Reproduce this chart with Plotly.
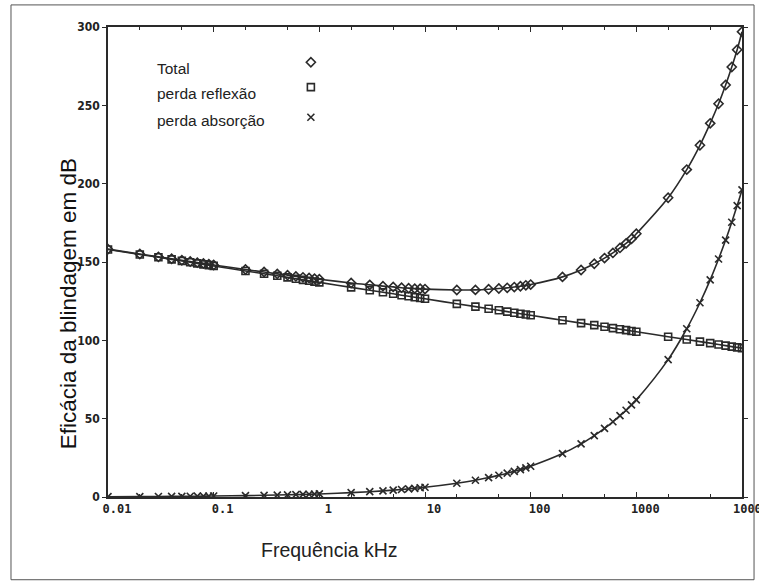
import plotly.graph_objects as go

# Frequencies (kHz): 1..9 per decade from 0.01 to 10000
freq = [0.01, 0.02, 0.03, 0.04, 0.05, 0.06, 0.07, 0.08, 0.09,
        0.1, 0.2, 0.3, 0.4, 0.5, 0.6, 0.7, 0.8, 0.9,
        1, 2, 3, 4, 5, 6, 7, 8, 9,
        10, 20, 30, 40, 50, 60, 70, 80, 90,
        100, 200, 300, 400, 500, 600, 700, 800, 900,
        1000, 2000, 3000, 4000, 5000, 6000, 7000, 8000, 9000,
        10000]

reflexao = [158.0, 154.8, 153.0, 151.7, 150.7, 149.8, 149.1, 148.5, 148.0,
            147.5, 144.3, 142.5, 141.2, 140.2, 139.3, 138.6, 138.0, 137.5,
            137.0, 133.8, 132.0, 130.7, 129.7, 128.8, 128.1, 127.5, 127.0,
            126.5, 123.3, 121.5, 120.2, 119.2, 118.3, 117.6, 117.0, 116.5,
            116.0, 112.8, 111.0, 109.7, 108.7, 107.8, 107.1, 106.5, 106.0,
            105.5, 102.3, 100.5, 99.2, 98.2, 97.3, 96.6, 96.0, 95.5,
            95.0]

absorcao = [0.2, 0.28, 0.34, 0.39, 0.44, 0.48, 0.52, 0.55, 0.59,
            0.62, 0.88, 1.07, 1.24, 1.39, 1.52, 1.64, 1.75, 1.86,
            1.96, 2.77, 3.39, 3.92, 4.38, 4.80, 5.19, 5.54, 5.88,
            6.2, 8.8, 10.7, 12.4, 13.9, 15.2, 16.4, 17.5, 18.6,
            19.6, 27.7, 33.9, 39.2, 43.8, 48.0, 51.9, 55.4, 58.8,
            62.0, 87.7, 107.4, 124.0, 138.6, 151.9, 164.0, 175.4, 186.0,
            196.0]

total = [158.2, 155.1, 153.3, 152.1, 151.1, 150.3, 149.6, 149.1, 148.6,
         148.1, 145.2, 143.6, 142.4, 141.6, 140.8, 140.2, 139.8, 139.4,
         139.0, 136.6, 135.4, 134.6, 134.1, 133.6, 133.3, 133.0, 132.9,
         132.7, 132.1, 132.2, 132.6, 133.1, 133.5, 134.0, 134.5, 135.1,
         135.6, 140.5, 144.9, 148.9, 152.5, 155.8, 159.0, 161.9, 164.8,
         168.0, 191.0, 209.0, 224.5, 238.5, 251.0, 263.0, 274.5, 285.5,
         297.0]

series_names = ["Total", "perda reflexão", "perda absorção"]
series_symbols = ["diamond-open", "square-open", "x-thin-open"]

x_tickvals = [0.01, 0.1, 1, 10, 100, 1000, 10000]
x_ticktext = ["0.01", "0.1", "1", "10", "100", "1000", "10000"]
y_tickvals = [0, 50, 100, 150, 200, 250, 300]

ink = "#2a2a2a"
fig = go.Figure()

for name, ys, sym in zip(series_names, [total, reflexao, absorcao], series_symbols):
    fig.add_trace(go.Scatter(
        x=freq, y=ys, mode="lines+markers", name=name,
        line=dict(color=ink, width=1.6, shape="spline"),
        marker=dict(symbol=sym, size=7, color=ink, line=dict(color=ink, width=1.6)),
        showlegend=False,
    ))

# legend markers on a helper axis (0..1 over the plot area)
leg_y = [0.925, 0.872, 0.808]
fig.add_trace(go.Scatter(
    x=[0.32, 0.32, 0.32], y=leg_y, mode="markers", xaxis="x2", yaxis="y2",
    marker=dict(symbol=series_symbols, size=7, color=ink, line=dict(color=ink, width=1.6)),
    showlegend=False, hoverinfo="skip",
))
for name, yy in zip(series_names, [0.912, 0.858, 0.8]):
    fig.add_annotation(x=0.074, y=yy, xref="paper", yref="paper", text=name,
                       showarrow=False, xanchor="left", yanchor="middle",
                       font=dict(family="Liberation Sans, Arial", size=15.5, color="#222"))

fig.update_layout(
    width=759, height=586,
    margin=dict(l=108, r=17, t=27, b=89, autoexpand=False),
    paper_bgcolor="white", plot_bgcolor="white",
    showlegend=False,
    xaxis=dict(type="log", range=[-2, 4], tickvals=x_tickvals, ticktext=x_ticktext,
               showgrid=False, zeroline=False, showline=True, linecolor=ink, linewidth=1.6,
               mirror="ticks", ticks="inside", ticklen=5, tickcolor=ink, automargin=False,
               minor=dict(ticks="inside", ticklen=3, tickcolor=ink, showgrid=False),
               ticklabeloverflow="allow", ticklabelshift=9,
               tickfont=dict(family="DejaVu Sans Mono", size=12, color="#222", weight="bold")),
    yaxis=dict(range=[0, 300], tickvals=y_tickvals, showgrid=False, zeroline=False,
               showline=True, linecolor=ink, linewidth=1.6, mirror="ticks", automargin=False,
               ticks="outside", ticklen=4, tickcolor=ink,
               tickfont=dict(family="DejaVu Sans Condensed", size=12, color="#222", weight="bold")),
    xaxis2=dict(range=[0, 1], overlaying="x", visible=False, fixedrange=True),
    yaxis2=dict(range=[0, 1], overlaying="y", visible=False, fixedrange=True),
)

# axis titles
fig.add_annotation(x=-0.063, y=0.41, xref="paper", yref="paper", text="Eficácia da blindagem em dB",
                   textangle=-90, showarrow=False, xanchor="center", yanchor="middle",
                   font=dict(family="Liberation Sans, Arial", size=22.5, color="#111"))
fig.add_annotation(x=0.35, y=-0.085, xref="paper", yref="paper", text="Frequência kHz",
                   showarrow=False, xanchor="center", yanchor="top",
                   font=dict(family="Liberation Sans, Arial", size=19.5, color="#222"))

# outer frame
fig.add_shape(type="rect", xref="paper", yref="paper", x0=-0.153, x1=1.019, y0=-0.176, y1=1.047,
              line=dict(color="#555", width=1))

fig.write_html("out.html", config={"displayModeBar": False},
               post_script="document.body.style.margin='0';")
